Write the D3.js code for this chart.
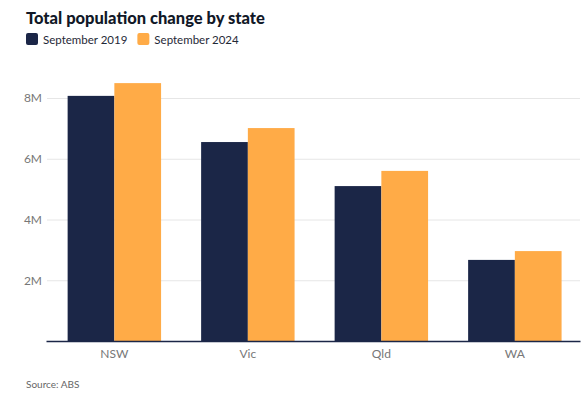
<!DOCTYPE html>
<html><head><meta charset="utf-8">
<script src="https://cdn.jsdelivr.net/npm/d3@7"></script>
<style>body{margin:0;background:#fff}svg{display:block}</style>
</head><body><svg id="c" width="588" height="396"></svg>
<script>
const categories = ["NSW", "Vic", "Qld", "WA"];
const seriesNames = ["September 2019", "September 2024"];
const sep2019 = [8.07, 6.55, 5.10, 2.67];
const sep2024 = [8.49, 7.01, 5.60, 2.96];
const yTicks = [2, 4, 6, 8];
const colors = ["#1b2647", "#ffab47"];

const svg = d3.select("#c");
const font = "Lato, 'Open Sans', sans-serif";
const x0 = d3.scaleBand().domain(categories).range([46, 580]).paddingInner(0.3).paddingOuter(0.15).align(0.54);
const x1 = d3.scaleBand().domain(seriesNames).range([0, x0.bandwidth()]);
const y = d3.scaleLinear().domain([0, 10]).range([341, 37.25]);

// title
svg.append("text").attr("x", 26).attr("y", 24).attr("font-family", font).attr("font-weight", 900)
  .attr("font-size", 16.5).attr("fill", "#111827").text("Total population change by state");

// legend
const leg = svg.append("g");
let lx = 26;
seriesNames.forEach((s, i) => {
  leg.append("rect").attr("x", lx).attr("y", 33).attr("width", 12).attr("height", 12).attr("rx", 2).attr("fill", colors[i]);
  const t = leg.append("text").attr("x", lx + 17).attr("y", 43.5).attr("font-family", font).attr("font-size", 11.5)
    .attr("fill", "#1f2937").text(s);
  lx += 17 + t.node().getComputedTextLength() + 10;
});

// grid + y labels
const gy = svg.append("g").attr("transform", "translate(580,0)")
  .call(d3.axisLeft(y).tickValues(yTicks).tickSize(533).tickFormat(d => d + "M").tickPadding(5));
gy.select(".domain").remove();
gy.selectAll(".tick line").attr("stroke", "#e6e6e6");
gy.selectAll(".tick text").attr("font-family", font).attr("font-size", 12).attr("fill", "#777");

// bars
const data = categories.map((c, i) => ({c, v: [sep2019[i], sep2024[i]]}));
const g = svg.append("g");
data.forEach(d => {
  d.v.forEach((v, j) => {
    g.append("rect").attr("x", x0(d.c) + x1(seriesNames[j])).attr("y", y(v))
      .attr("width", x1.bandwidth()).attr("height", y(0) - y(v)).attr("fill", colors[j]);
  });
});

// x axis
const gx = svg.append("g").attr("transform", `translate(0,${y(0)})`)
  .call(d3.axisBottom(x0).tickSize(0).tickPadding(8).tickSizeOuter(0));
gx.select(".domain").attr("stroke", "#1b2647").attr("stroke-width", 1.5);
gx.selectAll(".tick text").attr("font-family", font).attr("font-size", 12).attr("fill", "#777");

// source
svg.append("text").attr("x", 26).attr("y", 388).attr("font-family", font).attr("font-size", 10)
  .attr("fill", "#666").text("Source: ABS");
</script></body></html>
